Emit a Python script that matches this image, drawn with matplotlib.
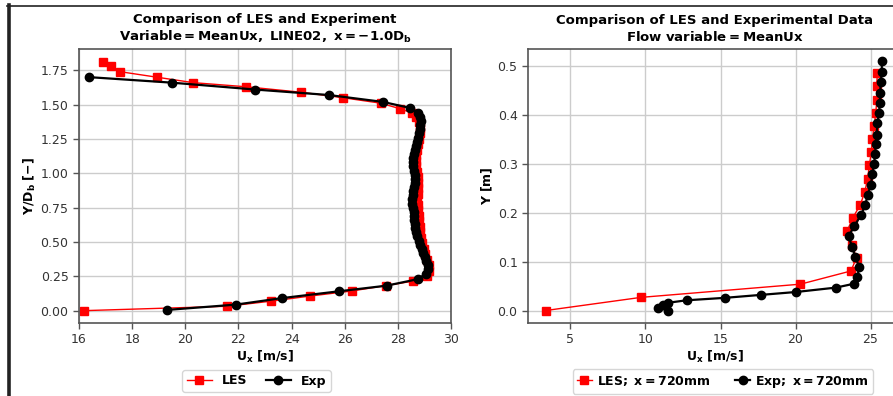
import matplotlib
matplotlib.use("Agg")
import matplotlib.pyplot as plt
from matplotlib.lines import Line2D

# ---------------- Left panel data (LINE02, x = -1.0 D_b) ----------------
les_left_ux = [16.20, 21.58, 23.23, 24.69, 26.26, 27.54, 28.58, 29.08, 29.18, 29.16,
               29.10, 29.03, 28.97, 28.92, 28.88, 28.85, 28.82, 28.80, 28.78, 28.76,
               28.74, 28.73, 28.74, 28.75, 28.76, 28.75, 28.73, 28.70, 28.68, 28.69,
               28.72, 28.76, 28.80, 28.82, 28.82, 28.78, 28.68, 28.52, 28.08, 27.37,
               25.95, 24.37, 22.29, 20.30, 18.92, 17.54, 17.20, 16.89]
les_left_y = [0.000, 0.032, 0.069, 0.106, 0.143, 0.182, 0.215, 0.254, 0.290, 0.330,
              0.370, 0.410, 0.450, 0.490, 0.530, 0.570, 0.610, 0.650, 0.690, 0.730,
              0.770, 0.810, 0.850, 0.890, 0.930, 0.970, 1.010, 1.050, 1.090, 1.130,
              1.170, 1.210, 1.250, 1.290, 1.330, 1.370, 1.410, 1.440, 1.470, 1.510,
              1.550, 1.590, 1.630, 1.660, 1.700, 1.740, 1.780, 1.810]

exp_left_ux = [19.30, 21.91, 23.63, 25.79, 27.58, 28.77, 29.05, 29.13, 29.12, 29.07,
               29.02, 28.96, 28.90, 28.84, 28.78, 28.73, 28.68, 28.66, 28.63, 28.62,
               28.60, 28.59, 28.56, 28.53, 28.54, 28.56, 28.58, 28.60, 28.63, 28.64,
               28.63, 28.60, 28.57, 28.56, 28.57, 28.60, 28.63, 28.68, 28.72, 28.76,
               28.80, 28.82, 28.85, 28.86, 28.84, 28.77, 28.46, 27.43, 25.40, 22.62,
               19.49, 16.39]
exp_left_y = [0.005, 0.044, 0.091, 0.141, 0.182, 0.230, 0.270, 0.300, 0.330, 0.360,
              0.390, 0.420, 0.450, 0.480, 0.510, 0.540, 0.570, 0.600, 0.630, 0.660,
              0.690, 0.720, 0.750, 0.780, 0.810, 0.840, 0.870, 0.900, 0.930, 0.960,
              0.990, 1.020, 1.050, 1.080, 1.110, 1.140, 1.170, 1.200, 1.230, 1.260,
              1.290, 1.320, 1.350, 1.380, 1.410, 1.440, 1.476, 1.520, 1.570, 1.610,
              1.660, 1.700]

# ---------------- Right panel data (x = 720 mm) ----------------
les_right_ux = [3.34, 9.71, 20.33, 23.69, 24.07, 23.76, 23.43, 23.80, 24.31, 24.62,
                24.80, 24.92, 25.05, 25.12, 25.24, 25.35, 25.42, 25.40, 25.46]
les_right_y = [0.000, 0.027, 0.054, 0.081, 0.108, 0.135, 0.162, 0.189, 0.216, 0.243,
               0.270, 0.297, 0.324, 0.351, 0.378, 0.405, 0.432, 0.459, 0.486]

exp_right_ux = [11.52, 10.86, 11.19, 11.52, 12.74, 15.29, 17.67, 20.04, 22.70, 23.91,
                24.13, 24.24, 23.98, 23.76, 23.54, 23.91, 24.36, 24.64, 24.82, 25.02,
                25.13, 25.24, 25.30, 25.35, 25.40, 25.46, 25.57, 25.62, 25.64, 25.68,
                25.75, 25.75]
exp_right_y = [0.000, 0.006, 0.011, 0.016, 0.021, 0.026, 0.032, 0.038, 0.047, 0.055,
               0.068, 0.090, 0.110, 0.131, 0.152, 0.173, 0.195, 0.216, 0.237, 0.258,
               0.280, 0.300, 0.320, 0.340, 0.360, 0.384, 0.405, 0.425, 0.446, 0.467,
               0.488, 0.510]

left_xticks = [16, 18, 20, 22, 24, 26, 28, 30]
left_yticks = [0.00, 0.25, 0.50, 0.75, 1.00, 1.25, 1.50, 1.75]
right_xticks = [5, 10, 15, 20, 25]
right_yticks = [0.0, 0.1, 0.2, 0.3, 0.4, 0.5]

W, H = 893, 396
fig = plt.figure(figsize=(W / 100, H / 100), dpi=100)
fig.patch.set_facecolor("white")

def px_axes(x0, y0, x1, y1):
    return [x0 / W, 1 - y1 / H, (x1 - x0) / W, (y1 - y0) / H]

axL = fig.add_axes(px_axes(79, 49, 451, 323))
axR = fig.add_axes(px_axes(528, 49, 901, 323))

tick_fs = 9
for ax in (axL, axR):
    ax.grid(True, color="#cccccc", linewidth=1.0)
    ax.set_axisbelow(True)
    for sp in ax.spines.values():
        sp.set_color("#555555")
        sp.set_linewidth(1.2)
    ax.tick_params(labelsize=tick_fs, colors="#555555", labelcolor="#333333",
                   length=4, width=1.0)

# Left
axL.plot(les_left_ux, les_left_y, color="red", lw=1.0, marker="s", ms=6,
         label="LES")
axL.plot(exp_left_ux, exp_left_y, color="black", lw=1.6, marker="o", ms=6,
         label="Exp")
axL.set_xlim(16, 30)
axL.set_ylim(-0.09, 1.905)
axL.set_xticks(left_xticks)
axL.set_yticks(left_yticks)
axL.set_yticklabels([f"{v:.2f}" for v in left_yticks])
axL.set_xlabel(r"$\mathbf{U_x\ [m/s]}$", fontsize=9, labelpad=2)
axL.set_ylabel(r"$\mathbf{Y/D_b\ [-]}$", fontsize=9, labelpad=2)
axL.set_title("Comparison of LES and Experiment\n"
              r"$\mathbf{Variable = MeanUx,\ LINE02,\ x = -1.0D_b}$",
              fontsize=9.5, fontweight="bold", pad=6)

# Right
axR.plot(les_right_ux, les_right_y, color="red", lw=1.0, marker="s", ms=6,
         label=r"$\mathbf{LES;\ x = 720mm}$")
axR.plot(exp_right_ux, exp_right_y, color="black", lw=1.6, marker="o", ms=6,
         label=r"$\mathbf{Exp;\ x = 720mm}$")
axR.set_xticks(right_xticks)
axR.set_yticks(right_yticks)
axR.set_xlim(2.17, 27.03)
axR.set_ylim(-0.0255, 0.5355)
axR.set_xlabel(r"$\mathbf{U_x\ [m/s]}$", fontsize=9, labelpad=2)
axR.set_ylabel(r"$\mathbf{Y\ [m]}$", fontsize=9, labelpad=2)
axR.set_title("Comparison of LES and Experimental Data\n"
              r"$\mathbf{Flow\ variable = MeanUx}$",
              fontsize=9.5, fontweight="bold", pad=6)

legL = fig.legend(*axL.get_legend_handles_labels(), loc="center",
                  bbox_to_anchor=(256.5 / W, 1 - 381 / H), ncol=2,
                  prop={"weight": "bold", "size": 9}, handlelength=2.0,
                  columnspacing=1.5, borderpad=0.35, edgecolor="#cccccc")
legR = fig.legend(*axR.get_legend_handles_labels(), loc="center",
                  bbox_to_anchor=(723 / W, 1 - 381.5 / H), ncol=2,
                  prop={"weight": "bold", "size": 9}, handlelength=1.2,
                  columnspacing=2.0, borderpad=0.35, edgecolor="#cccccc",
                  handletextpad=0.4)

# screenshot frame lines
fig.add_artist(Line2D([9 / W, 9 / W], [0, 1 - 5 / H], transform=fig.transFigure,
                      color="#222222", lw=2.6))
fig.add_artist(Line2D([7 / W, 1], [1 - 5.5 / H, 1 - 5.5 / H],
                      transform=fig.transFigure, color="#222222", lw=1.2))

fig.savefig("out.png", dpi=100)
